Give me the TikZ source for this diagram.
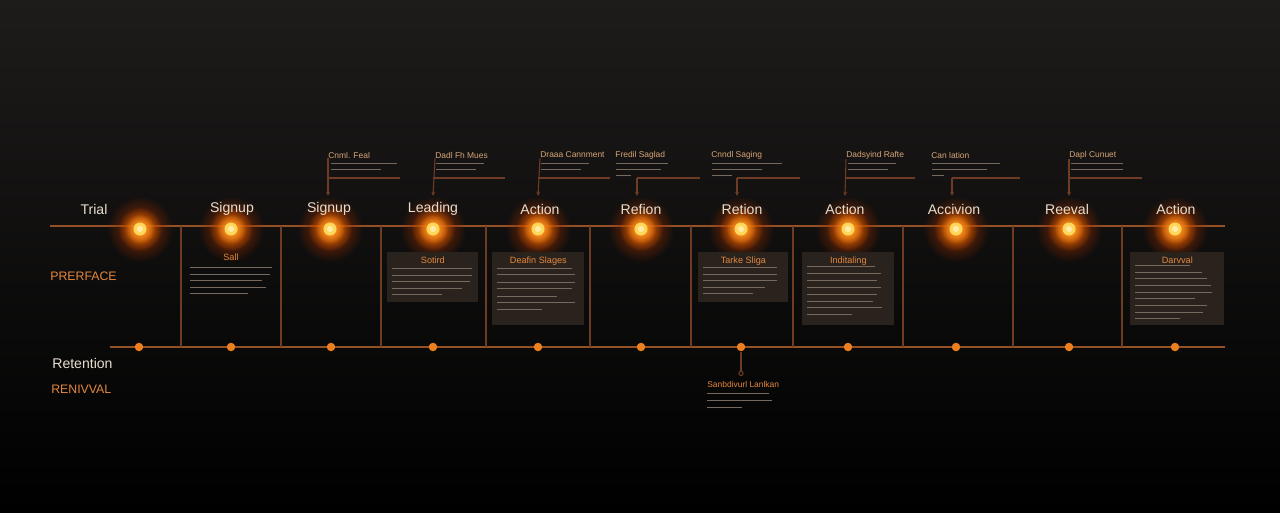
\documentclass[tikz,border=0pt]{standalone}
\usepackage{fontspec}
\setmainfont{Liberation Sans}
\usepackage{xcolor}
\definecolor{BgTop}{RGB}{30, 28, 27}
\definecolor{LineAmber}{RGB}{150, 80, 38}
\definecolor{DivBrown}{RGB}{110, 60, 36}
\definecolor{GlowOrange}{RGB}{255, 115, 0}
\definecolor{GlowRed}{RGB}{150, 45, 0}
\definecolor{CoreYellow}{RGB}{255, 215, 90}
\definecolor{LabelCream}{RGB}{232, 222, 206}
\definecolor{TagOrange}{RGB}{228, 136, 62}
\definecolor{CalloutTan}{RGB}{215, 165, 118}
\definecolor{BoxBrown}{RGB}{42, 35, 29}
\definecolor{FillerGray}{RGB}{118, 106, 94}
\definecolor{DotOrange}{RGB}{236, 128, 30}
\usepackage{tikz}
\usetikzlibrary{arrows.meta, positioning, fadings, calc}
\tikzfading[name=glow fade, inner color=transparent!0, outer color=transparent!100]

\begin{document}
\begin{tikzpicture}[
        x=0.02cm, y=-0.02cm,
        stage/.style={font=\fontsize{8}{9}\selectfont, text=LabelCream, inner sep=0},
        tag/.style={font=\fontsize{7}{8}\selectfont, text=TagOrange, anchor=west, inner sep=0},
        infobox/.style={rectangle, fill=BoxBrown, anchor=north west, inner sep=0},
        boxtitle/.style={font=\fontsize{5.2}{6}\selectfont, text=TagOrange, inner sep=0},
        calltitle/.style={font=\fontsize{4.8}{5.5}\selectfont, text=CalloutTan, anchor=west, inner sep=0},
        filler/.style={FillerGray, line width=0.55pt},
        rail/.style={LineAmber, line width=1pt},
        divider/.style={DivBrown, line width=0.6pt},
        callout/.style={DivBrown, line width=0.6pt},
        pointer/.style={callout, -{Stealth[length=2.5pt, width=2.2pt]}},
        dot/.style={circle, fill=DotOrange, minimum size=0.17cm, inner sep=0}
    ]
        % Background
        \shade[top color=BgTop, bottom color=black] (0,0) rectangle (1280,512);
        \useasboundingbox (0,0) rectangle (1280,512);

        % Rails and dividers
        \draw[rail] (50,226) -- (1225,226);
        \draw[rail] (110,347) -- (1225,347);
        \foreach \dx in {181, 281, 381, 486, 590, 691, 793, 903, 1013, 1122}
            \draw[divider] (\dx,226) -- (\dx,347);

        % Glowing stage points
        \foreach \gx in {140, 231, 330, 433, 538, 641, 741, 848, 956, 1069, 1175} {
            \fill[GlowRed, path fading=glow fade] (\gx,229) circle (0.66cm);
            \fill[GlowOrange, path fading=glow fade] (\gx,229) circle (0.44cm);
            \fill[GlowOrange!50!CoreYellow, path fading=glow fade] (\gx,229) circle (0.3cm);
            \fill[CoreYellow] (\gx,229) circle (0.13cm);
            \fill[CoreYellow!50!white] (\gx,229) circle (0.06cm);
        }

        % Bottom dots
        \foreach \gx [count=\i] in {139, 231, 331, 433, 538, 641, 741, 848, 956, 1069, 1175}
            \node[dot] (bd\i) at (\gx,347) {};

        % Stage labels
        \node[stage] (trial) at (94,209) {Trial};
        \node[stage] (signupA) at (232,209) {Signup};
        \node[stage] (signupB) at (329,209) {Signup};
        \node[stage] (leading) at (433,209) {Leading};
        \node[stage] (actionA) at (540,209) {Action};
        \node[stage] (refion) at (641,209) {Refion};
        \node[stage] (retion) at (742,209) {Retion};
        \node[stage] (actionB) at (845,209) {Action};
        \node[stage] (accivion) at (954,209) {Accivion};
        \node[stage] (reeval) at (1067,209) {Reeval};
        \node[stage] (actionC) at (1176,209) {Action};

        % Side labels
        \node[tag] (preface) at (50,276) {PRERFACE};
        \node[stage, anchor=west] (retention) at (52,363) {Retention};
        \node[tag] (renival) at (51,389) {RENIVVAL};

        % Info boxes
        \node[boxtitle] (sall) at (231,257) {Sall};
        \foreach \dy/\len in {267/82, 274/80, 280/72, 287/76, 293/58}
            \draw[filler] (190,\dy) -- ++(\len,0);

        \node[infobox, minimum width=1.82cm, minimum height=1.0cm] (sotird) at (387,252) {};
        \node[boxtitle, below=0.1cm of sotird.north] {Sotird};
        \foreach \dy/\len in {16/80, 23/80, 29/78, 36/70, 42/50}
            \draw[filler] ($(sotird.north west)+(5,\dy)$) -- ++(\len,0);

        \node[infobox, minimum width=1.84cm, minimum height=1.46cm] (deafin) at (492,252) {};
        \node[boxtitle, below=0.1cm of deafin.north] {Deafin Slages};
        \foreach \dy/\len in {16/75, 22/78, 30/78, 36/75, 44/60, 50/78, 57/45}
            \draw[filler] ($(deafin.north west)+(5,\dy)$) -- ++(\len,0);

        \node[infobox, minimum width=1.8cm, minimum height=1.0cm] (tarke) at (698,252) {};
        \node[boxtitle, below=0.1cm of tarke.north] {Tarke Sliga};
        \foreach \dy/\len in {15/74, 22/74, 28/74, 35/62, 41/50}
            \draw[filler] ($(tarke.north west)+(5,\dy)$) -- ++(\len,0);

        \node[infobox, minimum width=1.84cm, minimum height=1.46cm] (inditaling) at (802,252) {};
        \node[boxtitle, below=0.1cm of inditaling.north] {Inditaling};
        \foreach \dy/\len in {14/68, 21/74, 28/70, 35/74, 42/70, 49/66, 55/75, 62/45}
            \draw[filler] ($(inditaling.north west)+(5,\dy)$) -- ++(\len,0);

        \node[infobox, minimum width=1.88cm, minimum height=1.46cm] (darvval) at (1130,252) {};
        \node[boxtitle, below=0.1cm of darvval.north] {Darvval};
        \foreach \dy/\len in {13/55, 20/67, 26/72, 33/76, 40/77, 46/60, 53/72, 60/68, 66/45}
            \draw[filler] ($(darvval.north west)+(5,\dy)$) -- ++(\len,0);

        % Callouts above
        \node[calltitle] (cnml) at (328,155) {Cnml. Feal};
        \coordinate (cnmlTip) at (328,196);
        \draw[pointer] (cnml.south west) -- (cnmlTip);
        \draw[callout] (328,178) -- (400,178);
        \draw[filler] (331,163) -- ++(66,0) (331,169) -- ++(50,0);

        \node[calltitle] (dadl) at (435,155) {Dadl Fh Mues};
        \coordinate (dadlTip) at (433,196);
        \draw[pointer] (dadl.south west) -- (dadlTip);
        \draw[callout] (433,178) -- (505,178);
        \draw[filler] (436,163) -- ++(48,0) (436,169) -- ++(40,0);

        \node[calltitle] (draaa) at (540,155) {Draaa Cannment};
        \coordinate (draaaTip) at (538,196);
        \draw[pointer] (draaa.south west) -- (draaaTip);
        \draw[callout] (538,178) -- (610,178);
        \draw[filler] (541,163) -- ++(48,0) (541,169) -- ++(40,0);

        \node[calltitle] (fredil) at (615,155) {Fredil Saglad};
        \coordinate (fredilKnee) at (637,178);
        \coordinate (fredilTip) at (637,196);
        \draw[pointer] (fredilKnee) -- (fredilTip);
        \draw[callout] (fredilKnee) -- (700,178);
        \draw[filler] (616,163) -- ++(52,0) (616,169) -- ++(45,0) (616,175) -- ++(15,0);

        \node[calltitle] (cnndl) at (711,155) {Cnndl Saging};
        \coordinate (cnndlKnee) at (737,178);
        \coordinate (cnndlTip) at (737,196);
        \draw[pointer] (cnndlKnee) -- (cnndlTip);
        \draw[callout] (cnndlKnee) -- (800,178);
        \draw[filler] (712,163) -- ++(70,0) (712,169) -- ++(50,0) (712,175) -- ++(20,0);

        \node[calltitle] (dadsyind) at (846,155) {Dadsyind Rafte};
        \coordinate (dadsyindTip) at (845,196);
        \draw[pointer] (dadsyind.south west) -- (dadsyindTip);
        \draw[callout] (845,178) -- (915,178);
        \draw[filler] (848,163) -- ++(48,0) (848,169) -- ++(40,0);

        \node[calltitle] (canlation) at (931,155) {Can lation};
        \coordinate (canlationKnee) at (952,178);
        \coordinate (canlationTip) at (952,196);
        \draw[pointer] (canlationKnee) -- (canlationTip);
        \draw[callout] (canlationKnee) -- (1020,178);
        \draw[filler] (932,163) -- ++(68,0) (932,169) -- ++(55,0) (932,175) -- ++(12,0);

        \node[calltitle] (dapl) at (1069,155) {Dapl Cunuet};
        \coordinate (daplTip) at (1069,196);
        \draw[pointer] (dapl.south west) -- (daplTip);
        \draw[callout] (1069,178) -- (1142,178);
        \draw[filler] (1071,163) -- ++(52,0) (1071,169) -- ++(52,0);

        % Callout below
        \coordinate (sanbTip) at (741,376);
        \draw[callout, -{Circle[open, length=3pt]}] (bd7) -- (sanbTip);
        \node[calltitle, text=TagOrange] (sanb) at (707,384) {Sanbdivurl Lanlkan};
        \draw[filler] (707,393) -- ++(62,0) (707,400) -- ++(65,0) (707,407) -- ++(35,0);
    \end{tikzpicture}
\end{document}
